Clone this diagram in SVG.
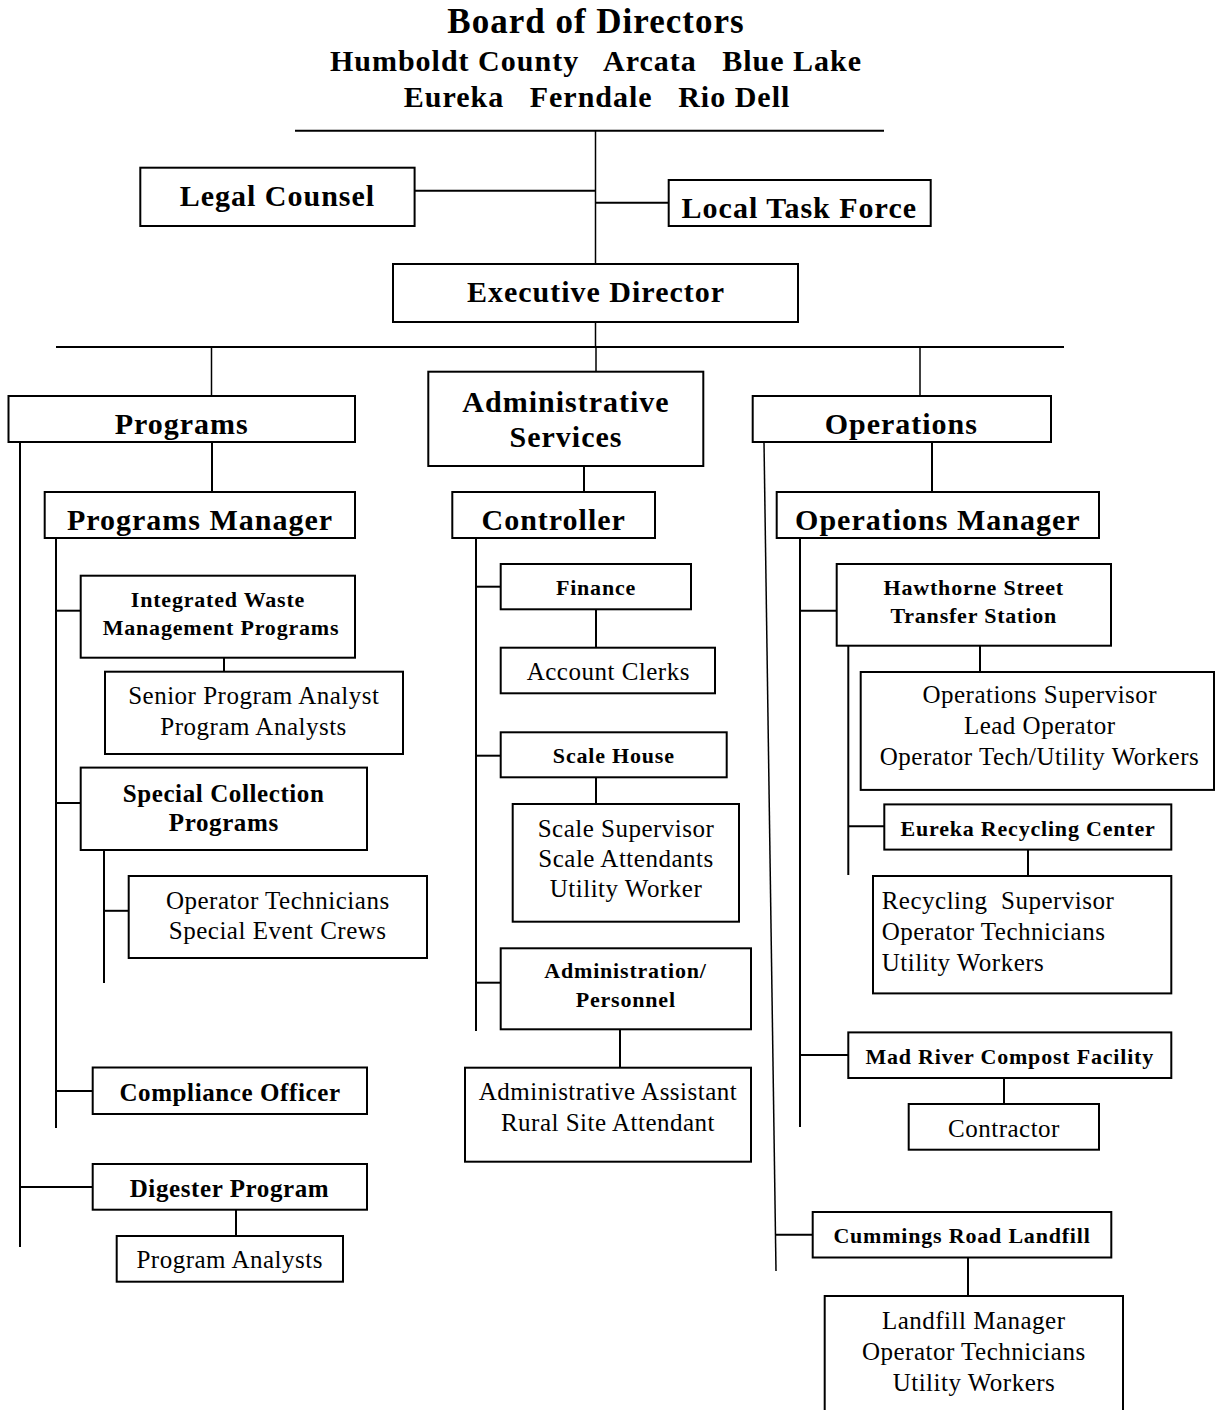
<svg xmlns="http://www.w3.org/2000/svg" width="1215" height="1410" viewBox="0 0 1215 1410">
<style>
.box{fill:#fff;stroke:#000;stroke-width:2}
.ln{stroke:#000;stroke-width:2;fill:none}
.thin{stroke:#000;stroke-width:1.5;fill:none}
text{font-family:"Liberation Serif","Times New Roman",serif;fill:#000;text-anchor:middle;white-space:pre}
.t1{font-size:35px;font-weight:bold;letter-spacing:1px}
.t2{font-size:30px;font-weight:bold;letter-spacing:1px}
.h{font-size:30px;font-weight:bold;letter-spacing:1px}
.m{font-size:25px;font-weight:bold;letter-spacing:0.6px}
.s{font-size:22px;font-weight:bold;letter-spacing:0.8px}
.r{font-size:25px;letter-spacing:0.5px}
.left{text-anchor:start}
</style>
<rect width="1215" height="1410" fill="#fff"/>
<g id="connectors">
<line class="ln" x1="295" y1="130.7" x2="884" y2="130.7"/>
<line class="thin" x1="595.5" y1="130.7" x2="595.5" y2="264"/>
<line class="ln" x1="415" y1="190.7" x2="595.5" y2="190.7"/>
<line class="ln" x1="595.5" y1="202.7" x2="669" y2="202.7"/>
<line class="thin" x1="595.5" y1="322" x2="595.5" y2="347"/>
<line class="ln" x1="56" y1="347" x2="1064" y2="347"/>
<line class="thin" x1="211.5" y1="347" x2="211.5" y2="396"/>
<line class="thin" x1="596" y1="347" x2="596" y2="372"/>
<line class="thin" x1="920" y1="347" x2="920" y2="396"/>
<line class="ln" x1="20" y1="442" x2="20" y2="1247"/>
<line class="ln" x1="212" y1="442" x2="212" y2="492"/>
<line class="ln" x1="56" y1="538" x2="56" y2="1128"/>
<line class="ln" x1="56" y1="610.7" x2="81" y2="610.7"/>
<line class="ln" x1="224" y1="658" x2="224" y2="672"/>
<line class="ln" x1="56" y1="803" x2="81" y2="803"/>
<line class="ln" x1="104" y1="850" x2="104" y2="983"/>
<line class="ln" x1="104" y1="910.8" x2="129" y2="910.8"/>
<line class="ln" x1="56" y1="1091" x2="93" y2="1091"/>
<line class="ln" x1="20" y1="1187" x2="93" y2="1187"/>
<line class="ln" x1="236" y1="1210" x2="236" y2="1236"/>
<line class="ln" x1="584" y1="466" x2="584" y2="492"/>
<line class="ln" x1="476" y1="538" x2="476" y2="1031"/>
<line class="ln" x1="476" y1="586.7" x2="501" y2="586.7"/>
<line class="ln" x1="596" y1="609.3" x2="596" y2="647.7"/>
<line class="ln" x1="476" y1="755.7" x2="501" y2="755.7"/>
<line class="ln" x1="596" y1="777.3" x2="596" y2="804"/>
<line class="ln" x1="476" y1="982.7" x2="501" y2="982.7"/>
<line class="ln" x1="620" y1="1029.3" x2="620" y2="1067.7"/>
<line class="thin" x1="764" y1="442" x2="776" y2="1271"/>
<line class="ln" x1="932" y1="442" x2="932" y2="492"/>
<line class="ln" x1="800" y1="538" x2="800" y2="1127"/>
<line class="ln" x1="800" y1="610.7" x2="837" y2="610.7"/>
<line class="ln" x1="848.3" y1="646" x2="848.3" y2="875"/>
<line class="ln" x1="980" y1="646" x2="980" y2="672"/>
<line class="ln" x1="848.3" y1="826.3" x2="884.3" y2="826.3"/>
<line class="ln" x1="1028" y1="850" x2="1028" y2="876"/>
<line class="ln" x1="800" y1="1055" x2="848.3" y2="1055"/>
<line class="ln" x1="1004" y1="1078" x2="1004" y2="1104"/>
<line class="ln" x1="775.5" y1="1234.7" x2="812.7" y2="1234.7"/>
<line class="ln" x1="968" y1="1257.5" x2="968" y2="1296"/>
</g>
<g id="board">
<text class="t1" x="596" y="32.7">Board of Directors</text>
<text class="t2" x="596" y="70.7">Humboldt County   Arcata   Blue Lake</text>
<text class="t2" x="597" y="106.7">Eureka   Ferndale   Rio Dell</text>
</g>
<g id="legal-counsel"><rect class="box" x="140.3" y="167.7" width="274.3" height="58.3"/><text class="h" x="277.4" y="206">Legal Counsel</text></g>
<g id="local-task-force"><rect class="box" x="668.7" y="180" width="262" height="46"/><text class="h" x="799.3" y="218.3">Local Task Force</text></g>
<g id="executive-director"><rect class="box" x="393" y="264" width="405" height="58"/><text class="h" x="596" y="301.7">Executive Director</text></g>
<g id="programs"><rect class="box" x="8.5" y="396" width="346.5" height="46"/><text class="h" x="181.7" y="434">Programs</text></g>
<g id="administrative-services"><rect class="box" x="428.3" y="371.7" width="275" height="94.3"/><text class="h" x="566" y="411.7">Administrative</text><text class="h" x="566" y="447">Services</text></g>
<g id="operations"><rect class="box" x="752.7" y="396" width="298.3" height="46"/><text class="h" x="901.3" y="434">Operations</text></g>
<g id="programs-manager"><rect class="box" x="44.7" y="492" width="310.3" height="46"/><text class="h" x="200" y="530">Programs Manager</text></g>
<g id="controller"><rect class="box" x="452.3" y="492" width="202.7" height="46"/><text class="h" x="553.7" y="530">Controller</text></g>
<g id="operations-manager"><rect class="box" x="776.7" y="492" width="322.3" height="46"/><text class="h" x="937.8" y="530">Operations Manager</text></g>
<g id="iwm-programs"><rect class="box" x="80.7" y="575.7" width="274.3" height="82"/><text class="s" x="218" y="606.7">Integrated Waste</text><text class="s" x="221" y="635">Management Programs</text></g>
<g id="iwm-staff"><rect class="box" x="105" y="671.7" width="298" height="82.3"/><text class="r" x="253.8" y="704">Senior Program Analyst</text><text class="r" x="253.6" y="735">Program Analysts</text></g>
<g id="special-collection"><rect class="box" x="80.7" y="767.6" width="286.3" height="82.4"/><text class="m" x="223.6" y="802">Special Collection</text><text class="m" x="223.8" y="831">Programs</text></g>
<g id="special-collection-staff"><rect class="box" x="128.7" y="876" width="298.3" height="82"/><text class="r" x="277.8" y="908.8">Operator Technicians</text><text class="r" x="277.7" y="939">Special Event Crews</text></g>
<g id="compliance-officer"><rect class="box" x="92.7" y="1067.5" width="274.3" height="46.5"/><text class="m" x="230" y="1101">Compliance Officer</text></g>
<g id="digester-program"><rect class="box" x="92.7" y="1164" width="274.3" height="45.7"/><text class="m" x="229.5" y="1197">Digester Program</text></g>
<g id="digester-staff"><rect class="box" x="116.7" y="1236" width="226.3" height="45.7"/><text class="r" x="229.7" y="1268">Program Analysts</text></g>
<g id="finance"><rect class="box" x="500.7" y="564" width="190.3" height="45.3"/><text class="s" x="596" y="595">Finance</text></g>
<g id="account-clerks"><rect class="box" x="500.7" y="647.7" width="214.3" height="45.6"/><text class="r" x="608.3" y="680">Account Clerks</text></g>
<g id="scale-house"><rect class="box" x="500.7" y="732.3" width="226" height="45"/><text class="s" x="613.8" y="763.3">Scale House</text></g>
<g id="scale-staff"><rect class="box" x="512.7" y="804" width="226.3" height="117.7"/><text class="r" x="626" y="837.3">Scale Supervisor</text><text class="r" x="626" y="867.3">Scale Attendants</text><text class="r" x="626" y="897.3">Utility Worker</text></g>
<g id="administration-personnel"><rect class="box" x="500.7" y="948.3" width="250.3" height="81"/><text class="s" x="625.5" y="978.3">Administration/</text><text class="s" x="625.8" y="1006.7">Personnel</text></g>
<g id="admin-staff"><rect class="box" x="465" y="1067.7" width="286" height="94"/><text class="r" x="608" y="1100">Administrative Assistant</text><text class="r" x="608" y="1130.7">Rural Site Attendant</text></g>
<g id="hawthorne"><rect class="box" x="836.7" y="564" width="274.3" height="81.7"/><text class="s" x="973.8" y="595">Hawthorne Street</text><text class="s" x="973.7" y="622.7">Transfer Station</text></g>
<g id="hawthorne-staff"><rect class="box" x="860.7" y="672" width="353.3" height="117.9"/><text class="r" x="1039.8" y="703.3">Operations Supervisor</text><text class="r" x="1039.7" y="734">Lead Operator</text><text class="r" x="1039.5" y="765">Operator Tech/Utility Workers</text></g>
<g id="eureka-recycling"><rect class="box" x="884.3" y="804.4" width="287" height="45.2"/><text class="s" x="1028" y="835.5">Eureka Recycling Center</text></g>
<g id="recycling-staff"><rect class="box" x="873" y="876" width="298.3" height="117.4"/><text class="r left" x="881.7" y="909.3">Recycling  Supervisor</text><text class="r left" x="881.7" y="940.3">Operator Technicians</text><text class="r left" x="881.7" y="971.4">Utility Workers</text></g>
<g id="mad-river"><rect class="box" x="848.3" y="1032.4" width="323" height="45.6"/><text class="s" x="1009.7" y="1063.5">Mad River Compost Facility</text></g>
<g id="contractor"><rect class="box" x="908.7" y="1104" width="190.3" height="45.7"/><text class="r" x="1004" y="1137.3">Contractor</text></g>
<g id="cummings-road"><rect class="box" x="812.7" y="1212" width="298.6" height="45.5"/><text class="s" x="962" y="1243">Cummings Road Landfill</text></g>
<g id="landfill-staff"><rect class="box" x="824.7" y="1296" width="298.3" height="120"/><text class="r" x="973.7" y="1329">Landfill Manager</text><text class="r" x="973.8" y="1360">Operator Technicians</text><text class="r" x="974" y="1391">Utility Workers</text></g>
</svg>
